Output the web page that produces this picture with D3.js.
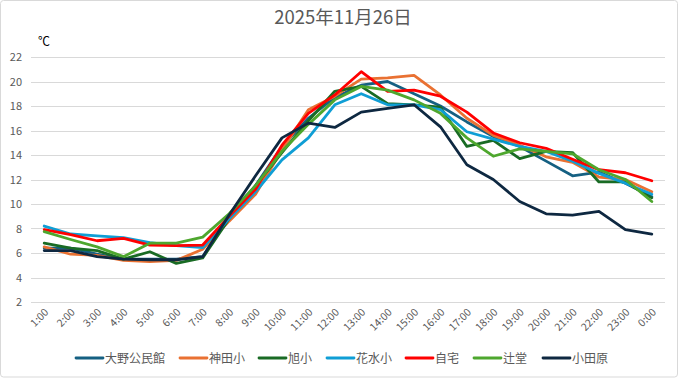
<!DOCTYPE html>
<html><head><meta charset="utf-8">
<script src="https://cdn.jsdelivr.net/npm/d3@7"></script>
<style>html,body{margin:0;padding:0;background:#fff;}svg{display:block;}</style>
</head><body>
<svg id="c" width="681" height="379"></svg>
<script>
const title = "2025年11月26日";
const unit = "℃";
const categories = ["1:00","2:00","3:00","4:00","5:00","6:00","7:00","8:00","9:00","10:00","11:00","12:00","13:00","14:00","15:00","16:00","17:00","18:00","19:00","20:00","21:00","22:00","23:00","0:00"];
const yTicks = [2,4,6,8,10,12,14,16,18,20,22];
const seriesNames = ["大野公民館","神田小","旭小","花水小","自宅","辻堂","小田原"];
const seriesColors = ["#156082","#E97132","#196B24","#0F9ED5","#FF0000","#4EA72E","#0E2841"];
const ono      = [6.4,6.4,5.9,5.5,5.5,5.5,5.7,9.0,11.5,14.7,17.0,18.7,19.7,20.0,19.0,18.0,16.7,15.5,14.7,13.5,12.3,12.6,11.7,10.6];
const kanda    = [6.5,5.9,5.8,5.4,5.3,5.4,6.3,8.6,10.8,14.4,17.7,18.8,20.2,20.3,20.5,18.9,17.0,15.6,14.8,13.85,13.4,12.2,12.0,11.0];
const asahi    = [6.8,6.4,6.2,5.5,6.1,5.15,5.6,8.8,11.5,14.2,16.8,19.2,19.6,18.2,18.1,17.9,14.7,15.2,13.7,14.3,14.2,11.8,11.8,10.5];
const hanamizu = [8.2,7.55,7.4,7.25,6.85,6.6,6.45,8.8,11.0,13.6,15.4,18.1,19.0,18.1,18.1,17.7,15.9,15.3,14.7,14.3,13.5,12.5,11.7,10.8];
const jitaku   = [7.9,7.5,7.0,7.2,6.65,6.6,6.65,9.0,11.2,14.8,17.4,18.9,20.8,19.2,19.3,18.8,17.5,15.8,15.0,14.55,13.65,12.8,12.55,11.9];
const tsujido  = [7.75,7.1,6.5,5.7,6.8,6.8,7.3,9.2,11.5,14.3,16.5,18.5,19.6,19.3,18.5,17.4,15.4,13.9,14.5,14.3,14.1,12.8,12.0,10.2];
const odawara  = [6.2,6.2,5.7,5.5,5.45,5.45,5.7,9.1,12.3,15.4,16.6,16.25,17.5,17.8,18.1,16.3,13.2,12.0,10.2,9.2,9.1,9.4,7.9,7.55];
const seriesValues = [ono,kanda,asahi,hanamizu,jitaku,tsujido,odawara];

const svg = d3.select("#c");
const font = "'Noto Sans CJK JP','Noto Sans',sans-serif";
svg.append("rect").attr("x",0.5).attr("y",0.5).attr("width",677).attr("height",376.5)
  .attr("rx",3).attr("fill","#fff").attr("stroke","#d9d9d9");

const pLeft = 31, pRight = 665, pTop = 57, pBottom = 302;
const x = d3.scaleBand().domain(categories).range([pLeft,pRight]);
const y = d3.scaleLinear().domain([2,22]).range([pBottom,pTop]);

svg.append("text").attr("x",343).attr("y",24).attr("text-anchor","middle")
  .attr("font-family",font).attr("font-size",18.5).attr("fill","#595959").text(title);
svg.append("text").attr("x",38).attr("y",46).attr("font-family",font)
  .attr("font-size",12).attr("fill","#000").text(unit);

// grid
svg.append("g").selectAll("line").data(yTicks).join("line")
  .attr("x1",pLeft).attr("x2",pRight).attr("y1",d=>Math.round(y(d))+0.5).attr("y2",d=>Math.round(y(d))+0.5)
  .attr("stroke","#d9d9d9").attr("stroke-width",1);

const yAxis = svg.append("g").attr("transform",`translate(${pLeft-9},0)`)
  .call(d3.axisLeft(y).tickValues(yTicks).tickSize(0).tickPadding(0));
yAxis.select(".domain").remove();
yAxis.selectAll("text").attr("font-family",font).attr("font-size",11).attr("fill","#595959");

const xAxis = svg.append("g").attr("transform",`translate(0,${pBottom})`)
  .call(d3.axisBottom(x).tickSize(0).tickPadding(0));
xAxis.select(".domain").remove();
xAxis.selectAll("text")
  .attr("font-family",font).attr("font-size",10.5).attr("fill","#595959")
  .attr("text-anchor","end").attr("dy",0)
  .attr("transform","translate(5,11) rotate(-45)");

const line = d3.line().x((d,i)=>x(categories[i])+x.bandwidth()/2).y(d=>y(d));
svg.append("g").selectAll("path").data(seriesValues).join("path")
  .attr("d",d=>line(d)).attr("fill","none")
  .attr("stroke",(d,i)=>seriesColors[i]).attr("stroke-width",2.8)
  .attr("stroke-linejoin","round").attr("stroke-linecap","round");

// legend
const legendX = [76,180,259,327,406,474,543];
const lg = svg.append("g").selectAll("g").data(seriesNames).join("g")
  .attr("transform",(d,i)=>`translate(${legendX[i]},358)`);
lg.append("line").attr("x1",0).attr("x2",27).attr("stroke",(d,i)=>seriesColors[i])
  .attr("stroke-width",2.8).attr("stroke-linecap","round");
lg.append("text").attr("x",29).attr("y",4.5).attr("font-family",font).attr("font-size",12)
  .attr("fill","#595959").text(d=>d);
</script>
</body></html>
